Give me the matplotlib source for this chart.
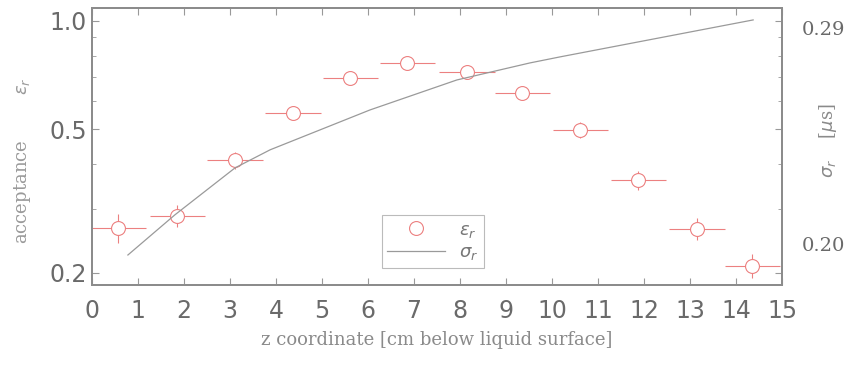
import matplotlib.pyplot as plt
import numpy as np
from matplotlib.ticker import FixedLocator, NullFormatter, LogLocator

# acceptance per z bin (left axis, log)
z_bins = [0.57, 1.85, 3.11, 4.37, 5.61, 6.85, 8.15, 9.35, 10.61, 11.87, 13.15, 14.35]
acceptance = [0.267, 0.288, 0.410, 0.555, 0.694, 0.764, 0.721, 0.631, 0.498, 0.361, 0.265, 0.209]
acc_err = [0.025, 0.020, 0.022, 0.025, 0.025, 0.025, 0.025, 0.025, 0.025, 0.022, 0.018, 0.016]
z_halfwidth = 0.6

# sigma_r curve (right axis)
z_sigma = [0.78, 1.80, 3.11, 3.87, 6.04, 7.93, 9.52, 10.17, 14.37]
sigma_r = [0.1954, 0.2121, 0.2317, 0.2392, 0.2558, 0.2683, 0.2754, 0.2779, 0.2933]

grey = '#6a6a6a'
red = '#ec8080'

fig = plt.figure(figsize=(8.52, 3.67), dpi=100)
ax = fig.add_axes([0.108, 0.2234, 0.810, 0.755])
ax2 = ax.twinx()

# bars first, then white circles on top so the bar stops at the ring
ax.errorbar(z_bins, acceptance, xerr=z_halfwidth, yerr=acc_err, fmt='none',
            ecolor=red, elinewidth=0.8, capsize=0, zorder=2)
mk, = ax.plot(z_bins, acceptance, 'o', mfc='white', mec=red, ms=10, mew=0.8,
              zorder=3)
ln, = ax2.plot(z_sigma, sigma_r, color='#9a9a9a', lw=0.9)

ax.set_yscale('log')
ax.set_xlim(0, 15)
ax.set_ylim(0.185, 1.087)
ax.yaxis.set_major_locator(FixedLocator([0.2, 0.5, 1.0]))
ax.yaxis.set_minor_locator(LogLocator(base=10, subs=np.arange(2, 10)))
ax.yaxis.set_minor_formatter(NullFormatter())
ax.set_yticklabels(['0.2', '0.5', '1.0'])
ax.set_xticks(range(16))
ax.tick_params(axis='both', which='both', direction='in', colors='#999999',
               labelcolor=grey, labelsize=17, top=True, right=True)
ax.tick_params(axis='both', which='major', length=5)
ax.tick_params(axis='both', which='minor', length=3)
ax.tick_params(axis='x', pad=10)

ax2.set_ylim(0.1829, 0.2983)
ax2.set_yticks([0.20, 0.29])
ax2.set_yticklabels(['0.20', '0.29'], family='DejaVu Serif')
ax2.tick_params(axis='y', length=0, labelsize=14, labelcolor=grey, pad=14)

for a in (ax, ax2):
    for s in a.spines.values():
        s.set_color('#8c8c8c')
        s.set_linewidth(1.4)

ax.set_xlabel('z coordinate [cm below liquid surface]', family='DejaVu Serif',
              fontsize=13, color='#8a8a8a', labelpad=6)
ax.set_ylabel(r'acceptance        $\varepsilon_r$', family='DejaVu Serif',
              fontsize=13, color='#9a9a9a')
ax.yaxis.set_label_coords(-0.085, 0.45)
ax2.set_ylabel(r'$\sigma_r$    [$\mu$s]', family='DejaVu Serif',
               fontsize=13, color='#8a8a8a')
ax2.yaxis.set_label_coords(1.05, 0.52)

leg = ax.legend([mk, ln], [r'$\varepsilon_r$', r'$\sigma_r$'], loc='lower center',
                bbox_to_anchor=(0.494, 0.03), fontsize=13, frameon=True,
                fancybox=False, handlelength=3.2, borderpad=0.3, labelspacing=0.2)
leg.get_frame().set_edgecolor('#aaaaaa')
leg.get_frame().set_linewidth(0.8)
for t in leg.get_texts():
    t.set_color('#777777')

fig.savefig('out.png', dpi=100)
